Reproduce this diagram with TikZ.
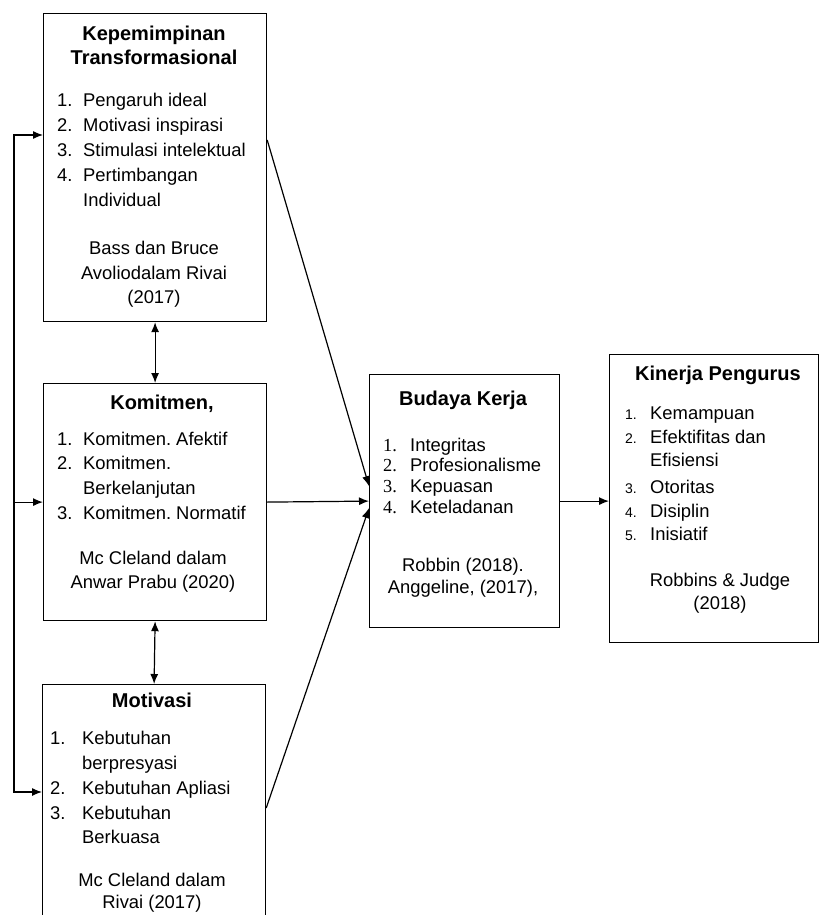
\documentclass[tikz,border=0pt]{standalone}
\usepackage{fontspec}
\setmainfont{Liberation Sans}
\newfontfamily\serifnum{Liberation Serif}
\usetikzlibrary{arrows.meta}
\frenchspacing
\newcommand\bodyfont{\fontsize{18.4pt}{22pt}\selectfont}
\newcommand\titlefont{\fontsize{20pt}{24pt}\selectfont\bfseries}
\newcommand\smallnum{\fontsize{14pt}{16pt}\selectfont}
\tikzset{
  box/.style={draw, line width=1.2pt, inner sep=0pt, anchor=north west},
  txt/.style={font=\bodyfont, inner sep=0pt, text height=13.2pt, text depth=0pt},
  ttl/.style={font=\titlefont, inner sep=0pt, text height=14.3pt, text depth=0pt},
  arr/.style={-{Latex[length=10pt,width=8pt]}, line width=1.2pt},
  darr/.style={{Latex[length=10pt,width=8pt]}-{Latex[length=10pt,width=8pt]}, line width=1.2pt}
}
% item: name, number x, text x, y, number, text
\newcommand\itm[6]{%
  \node[txt,anchor=west] (#1n) at (#2,#4) {#5};
  \node[txt,anchor=west] (#1) at (#3,#4) {#6};}
\begin{document}
\begin{tikzpicture}[x=1pt,y=-1pt]
\useasboundingbox (0,0) rectangle (819,915);
\clip (0,0) rectangle (819,915);

% boxes
\node[box, minimum width=223pt, minimum height=308pt] (K) at (43,13) {};
\node[box, minimum width=223pt, minimum height=237pt] (C) at (43,383) {};
\node[box, minimum width=223pt, minimum height=260pt] (M) at (42,684) {};
\node[box, minimum width=190pt, minimum height=253pt] (B) at (369,374) {};
\node[box, minimum width=209pt, minimum height=288pt] (P) at (609,354) {};

% Kepemimpinan Transformasional
\node[ttl] (kt1) at (154,33) {Kepemimpinan};
\node[ttl] (kt2) at (154,57) {Transformasional};
\itm{k1}{57}{83}{100}{1.}{Pengaruh ideal}
\itm{k2}{57}{83}{125}{2.}{Motivasi inspirasi}
\itm{k3}{57}{83}{150}{3.}{Stimulasi intelektual}
\itm{k4}{57}{83}{175}{4.}{Pertimbangan}
\node[txt,anchor=west] (k4b) at (83,200) {Individual};
\node[txt] (kr1) at (154,248) {Bass dan Bruce};
\node[txt] (kr2) at (154,273) {Avoliodalam Rivai};
\node[txt] (kr3) at (154,297) {(2017)};

% Komitmen
\node[ttl] (ct) at (162,402) {Komitmen,};
\itm{c1}{57}{83}{439}{1.}{Komitmen. Afektif}
\itm{c2}{57}{83}{463}{2.}{Komitmen.}
\node[txt,anchor=west] (c2b) at (83,488) {Berkelanjutan};
\itm{c3}{57}{83}{513}{3.}{Komitmen. Normatif}
\node[txt] (cr1) at (153,558) {Mc Cleland dalam};
\node[txt] (cr2) at (153,582) {Anwar Prabu (2020)};

% Motivasi
\node[ttl] (mt) at (152,700) {Motivasi};
\itm{m1}{50}{82}{738}{1.}{Kebutuhan}
\node[txt,anchor=west] (m1b) at (82,763) {berpresyasi};
\itm{m2}{50}{82}{788}{2.}{Kebutuhan Apliasi}
\itm{m3}{50}{82}{813}{3.}{Kebutuhan}
\node[txt,anchor=west] (m3b) at (82,837) {Berkuasa};
\node[txt] (mr1) at (152,880) {Mc Cleland dalam};
\node[txt] (mr2) at (152,902) {Rivai (2017)};

% Budaya Kerja
\node[ttl] (bt) at (463,398) {Budaya Kerja};
\itm{b1}{383}{410}{445}{\serifnum 1.}{Integritas}
\itm{b2}{383}{410}{465}{\serifnum 2.}{Profesionalisme}
\itm{b3}{383}{410}{486}{\serifnum 3.}{Kepuasan}
\itm{b4}{383}{410}{507}{\serifnum 4.}{Keteladanan}
\node[txt] (br1) at (463,565) {Robbin (2018).};
\node[txt] (br2) at (463,587) {Anggeline, (2017),};

% Kinerja Pengurus
\node[ttl] (pt) at (718,373) {Kinerja Pengurus};
\itm{p1}{625}{650}{413}{\smallnum 1.}{Kemampuan}
\itm{p2}{625}{650}{437}{\smallnum 2.}{Efektifitas dan}
\node[txt,anchor=west] (p2b) at (650,460) {Efisiensi};
\itm{p3}{625}{650}{487}{\smallnum 3.}{Otoritas}
\itm{p4}{625}{650}{511}{\smallnum 4.}{Disiplin}
\itm{p5}{625}{650}{534}{\smallnum 5.}{Inisiatif}
\node[txt] (pr1) at (720,580) {Robbins \& Judge};
\node[txt] (pr2) at (720,603) {(2018)};

% connectors
\coordinate (la) at (14,135);
\coordinate (lb) at (14,792);
\draw[arr] (lb) -- (la) -- (K.west |- la);
\draw[arr] (la) -- (lb) -- (M.west |- lb);
\draw[arr] (la |- C.west) -- (C.west);

\draw[darr] (K.south) -- (C.north);
\draw[darr] (C.south) -- (M.north);

\draw[arr] ([yshift=-127pt]K.north east) -- ([yshift=15pt]B.west);
\draw[arr] (C.east) -- (B.west);
\draw[arr] ([yshift=-124pt]M.north east) -- ([yshift=-7pt]B.west);
\draw[arr] (B.east) -- (P.west |- B.east);
\end{tikzpicture}
\end{document}
